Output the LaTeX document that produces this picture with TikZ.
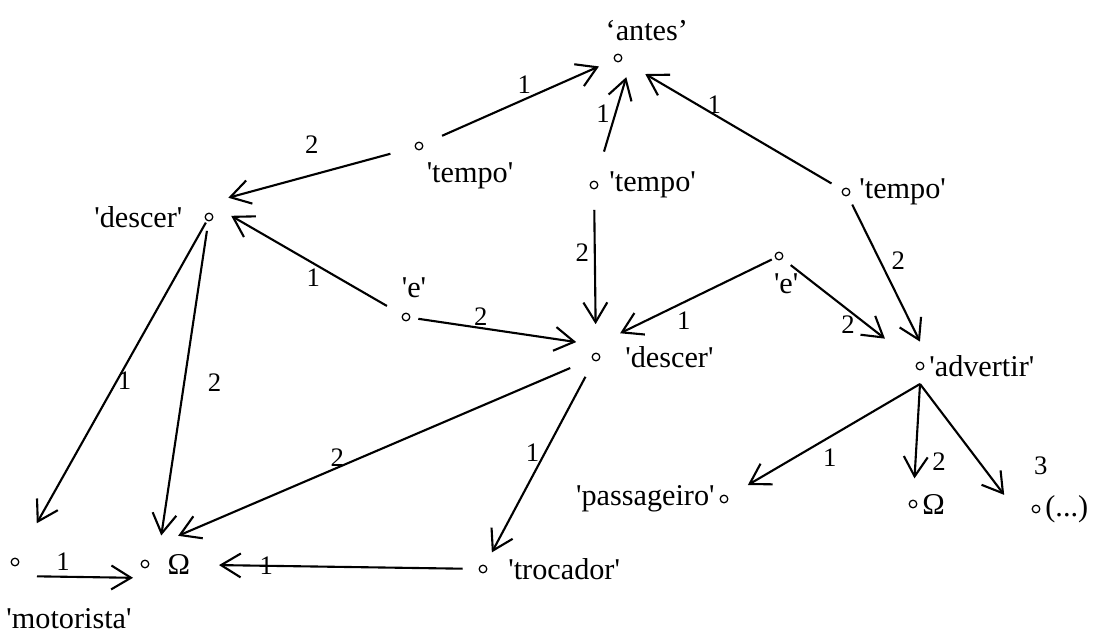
\documentclass[tikz,border=0pt]{standalone}
\usepackage{fontspec}
\newfontfamily\glossfont{Liberation Serif}
\usetikzlibrary{arrows.meta}

\begin{document}
\begin{tikzpicture}[
    dot/.style={circle,draw,line width=0.9pt,inner sep=0pt,minimum size=0.19cm},
    every label/.style={font=\glossfont\fontsize{21.5}{26}\selectfont},
    num/.style={font=\glossfont\fontsize{19}{23}\selectfont}]
\useasboundingbox (0,0) rectangle (27.425,15.85);
%\draw[help lines] (0,0) grid (27,15);
\begin{scope}
    \node[dot,label={[xshift=0.72cm,label distance=0.2cm]above:‘antes’}] (antes) at (15.45,14.40) {};
    \node[dot,label={[xshift=1.275cm,label distance=0.18cm]below:'tempo'}] (tempoA) at (10.475,12.20) {};
    \node[dot,label={[label distance=0.15cm]right:'tempo'}] (tempoB) at (14.85,11.225) {};
    \node[dot,label={[label distance=0.1cm]right:'tempo'}] (tempoC) at (21.15,11.05) {};
    \node[dot,label={[label distance=0.43cm]left:'descer'}] (descerA) at (5.225,10.425) {};
    \node[dot,label={[xshift=0.2cm,label distance=0.25cm]above:'e'}] (eA) at (10.15,7.925) {};
    \node[dot,label={[xshift=0.18cm,label distance=0.21cm]below:'e'}] (eB) at (19.475,9.45) {};
    \node[dot,label={[label distance=0.5cm]right:'descer'}] (descerB) at (14.9,6.925) {};
    \node[dot,label={right:'advertir'}] (advertir) at (23.0,6.70) {};
    \node[dot,label={left:'passageiro'}] (passageiro) at (18.1,3.375) {};
    \node[dot,label={right:Ω}] (omegaC) at (22.825,3.25) {};
    \node[dot,label={right:(...)}] (dots) at (25.9,3.125) {};
    \node[dot,label={[xshift=1.35cm,label distance=0.92cm]below:'motorista'}] (motorista) at (0.375,1.80) {};
    \node[dot,label={[label distance=0.33cm]right:Ω}] (omegaA) at (3.625,1.75) {};
    \node[dot,label={[label distance=0.4cm]right:'trocador'}] (trocador) at (12.075,1.625) {};
\end{scope}

\begin{scope}[>={Straight Barb[length=14pt,width=17pt]},every edge/.style={draw=black,line width=1.5pt}]
    \path [->] (tempoA) edge[shorten <=0.52cm,shorten >=0.41cm] node[num,pos=0.53,above] {1} (antes);
    \path [->] (tempoB) edge[shorten <=0.76cm,shorten >=0.5cm] node[num,pos=0.55,left] {1} ([xshift=0.35cm]antes.center);
    \path [->] (tempoC) edge[shorten <=0.31cm,shorten >=0.68cm] node[num,pos=0.58,above,inner sep=0pt] {1} (antes);
    \path [->] (tempoA) edge[shorten <=0.63cm,shorten >=0.5cm] node[num,pos=0.5,above=0.4cm] {2} ([yshift=0.35cm]descerA.center);
    \path [->] (tempoB) edge[shorten <=0.51cm,shorten >=0.71cm] node[num,pos=0.39,left] {2} (descerB);
    \path [->] (tempoC) edge[shorten <=0.24cm,shorten >=0.68cm] node[num,pos=0.38,right=0.15cm] {2} ([xshift=0.3cm]advertir.center);

    \path [->] (eA) edge[shorten <=0.44cm,shorten >=0.64cm] node[num,pos=0.46,below] {1} ([yshift=0.35cm]descerA.center);
    \path [->] (eA) edge[shorten <=0.2cm,shorten >=0.5cm] node[num,pos=0.38,above,inner sep=1pt] {2} ([yshift=0.3cm]descerB.center);
    \path [->] (eB) edge[shorten <=0.09cm,shorten >=0.67cm] node[num,pos=0.51,below=0.1cm] {1} ([yshift=0.3cm]descerB.center);
    \path [->] (eB) edge[shorten <=0.26cm,shorten >=1cm] node[num,pos=0.49,below] {2} (advertir);

    \path [->] (descerA) edge[shorten <=0.05cm,shorten >=1cm] node[num,pos=0.475,right,inner sep=0pt] {1} (motorista);
    \path [->] (descerA) edge[shorten <=0.24cm,shorten >=0.72cm] node[num,pos=0.47,right=0.45cm] {2} ([xshift=0.3cm]omegaA.center);
    \path [->] (descerB) edge[shorten <=0.59cm,shorten >=0.9cm] node[num,pos=0.57,above,inner sep=0pt] {2} ([yshift=0.35cm]omegaA.center);
    \path [->] (descerB) edge[shorten <=0.45cm,shorten >=0.36cm] node[num,pos=0.45,left] {1} (trocador);
    \path [->] (trocador) edge[shorten <=0.4cm,shorten >=1.74cm] node[num,pos=0.645] {1} (omegaA);
    \path [->] ([yshift=-0.35cm]motorista.center) edge[shorten <=0.55cm,shorten >=0.3cm] node[num,pos=0.37,above] {1} ([yshift=-0.35cm]omegaA.center);

    \path [->] ([yshift=-0.45cm]advertir.center) edge[shorten >=0.58cm] node[num,pos=0.47,below=0.15cm] {1} (passageiro);
    \path [->] ([yshift=-0.45cm]advertir.center) edge[shorten >=0.53cm] node[num,pos=0.67,right=0.28cm] {2} (omegaC);
    \path [->] ([yshift=-0.45cm]advertir.center) edge[shorten >=0.82cm] node[num,pos=0.6,right=1.15cm] {3} ([xshift=-0.3cm,yshift=-0.3cm]dots.center);
\end{scope}
\end{tikzpicture}
\end{document}
